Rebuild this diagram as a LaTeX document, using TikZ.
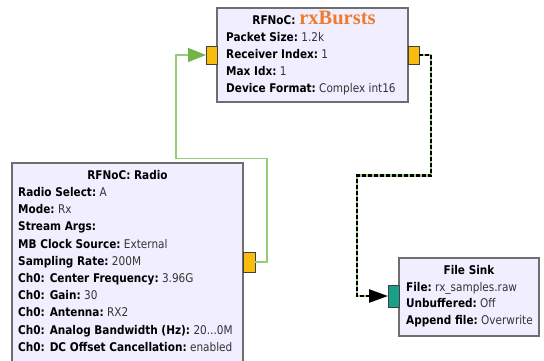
\documentclass[tikz,border=0pt]{standalone}
\usepackage{fontspec}
\setmainfont{DejaVu Sans}[FakeStretch=0.875]
\newfontfamily\serifb{Liberation Serif}
\usetikzlibrary{arrows.meta}
\definecolor{boxfill}{HTML}{F1EFFF}
\definecolor{boxline}{HTML}{6E6E6E}
\definecolor{portyel}{HTML}{F7BC0C}
\definecolor{portteal}{HTML}{17A087}
\definecolor{linkgreen}{HTML}{94CC7A}
\definecolor{arrowgreen}{HTML}{72B448}
\definecolor{titleorange}{HTML}{EF7B2E}
\definecolor{valgray}{HTML}{333333}
\tikzset{
  blockbox/.style={draw=boxline, line width=1.5pt, fill=boxfill, anchor=north west, inner sep=0, outer sep=0},
  portbox/.style={draw=black!75, line width=1pt, inner sep=0, outer sep=0},
  txt/.style={anchor=base west, inner sep=0, font=\fontsize{12}{14}\selectfont},
  ttl/.style={anchor=base, inner sep=0, font=\fontsize{12}{14}\selectfont\bfseries},
  greenlink/.style={draw=linkgreen, line width=1.3pt},
  dashunder/.style={draw=linkgreen, line width=2.4pt},
  dashover/.style={draw=black, line width=2.4pt, dash pattern=on 3.5pt off 2.5pt},
}
\newcommand{\kv}[2]{\textbf{#1}\ {\color{valgray}#2}}
\begin{document}
\begin{tikzpicture}[x=1pt,y=-1pt]
\useasboundingbox (0,0) rectangle (544,360);
% blocks
\node[blockbox, minimum width=191pt, minimum height=94pt] (topbox) at (217,8) {};
\node[blockbox, minimum width=231pt, minimum height=210pt] (radiobox) at (12,163) {};
\node[blockbox, minimum width=140pt, minimum height=78pt] (sinkbox) at (399,258) {};
% ports
\node[portbox, fill=portyel, minimum width=11pt, minimum height=18pt] (tin) at (211.5,55) {};
\node[portbox, fill=portyel, minimum width=11pt, minimum height=18pt] (tout) at (413.5,55) {};
\node[portbox, fill=portyel, minimum width=12pt, minimum height=20pt] (rport) at (249,262) {};
\node[portbox, fill=portteal, minimum width=11pt, minimum height=22pt] (sport) at (393.5,296) {};
% top block text
\node[ttl, anchor=base] (ttitle) at (314,24) {RFNoC: {\serifb\fontsize{20.5}{22}\selectfont\color{titleorange}rxBursts}};
\node[txt] (t1) at (226,41) {\kv{Packet Size:}{1.2k}};
\node[txt] (t2) at (226,58) {\kv{Receiver Index:}{1}};
\node[txt] (t3) at (226,75) {\kv{Max Idx:}{1}};
\node[txt] (t4) at (226,92) {\kv{Device Format:}{Complex int16}};
% radio block text
\node[ttl] (rtitle) at (127.5,179.3) {RFNoC: Radio};
\node[txt] (r1) at (18,196.5) {\kv{Radio Select:}{A}};
\node[txt] (r2) at (18,213.7) {\kv{Mode:}{Rx}};
\node[txt] (r3) at (18,230.9) {\textbf{Stream Args:}};
\node[txt] (r4) at (18,248.1) {\kv{MB Clock Source:}{External}};
\node[txt] (r5) at (18,265.3) {\kv{Sampling Rate:}{200M}};
\node[txt] (r6) at (18,282.5) {\kv{Ch0: Center Frequency:}{3.96G}};
\node[txt] (r7) at (18,299.7) {\kv{Ch0: Gain:}{30}};
\node[txt] (r8) at (18,316.9) {\kv{Ch0: Antenna:}{RX2}};
\node[txt] (r9) at (18,334.1) {\kv{Ch0: Analog Bandwidth (Hz):}{20...0M}};
\node[txt] (r10) at (18,351.3) {\kv{Ch0: DC Offset Cancellation:}{enabled}};
% sink block text
\node[ttl] (stitle) at (469,274) {File Sink};
\node[txt] (s1) at (406,291) {\kv{File:}{rx\_samples.raw}};
\node[txt] (s2) at (406,307.5) {\kv{Unbuffered:}{Off}};
\node[txt] (s3) at (406,324) {\kv{Append file:}{Overwrite}};
% connector waypoints
\coordinate (g1) at (267,158.5);
\coordinate (g2) at (176,158.5);
\coordinate (d1) at (431,175.5);
\coordinate (d2) at (357,175.5);
% green connector
\draw[greenlink, -{Triangle[length=18pt,width=14pt,fill=arrowgreen,color=arrowgreen]}]
  (rport.east) -| (g1) -- (g2) |- (tin.west);
% dashed connector
\draw[dashunder, shorten >=18pt] (tout.east) -| (d1) -- (d2) |- (sport.west);
\draw[dashover, -{Triangle[length=19pt,width=13pt,sep=0pt]}]
  (tout.east) -| (d1) -- (d2) |- (sport.west);
\end{tikzpicture}
\end{document}
